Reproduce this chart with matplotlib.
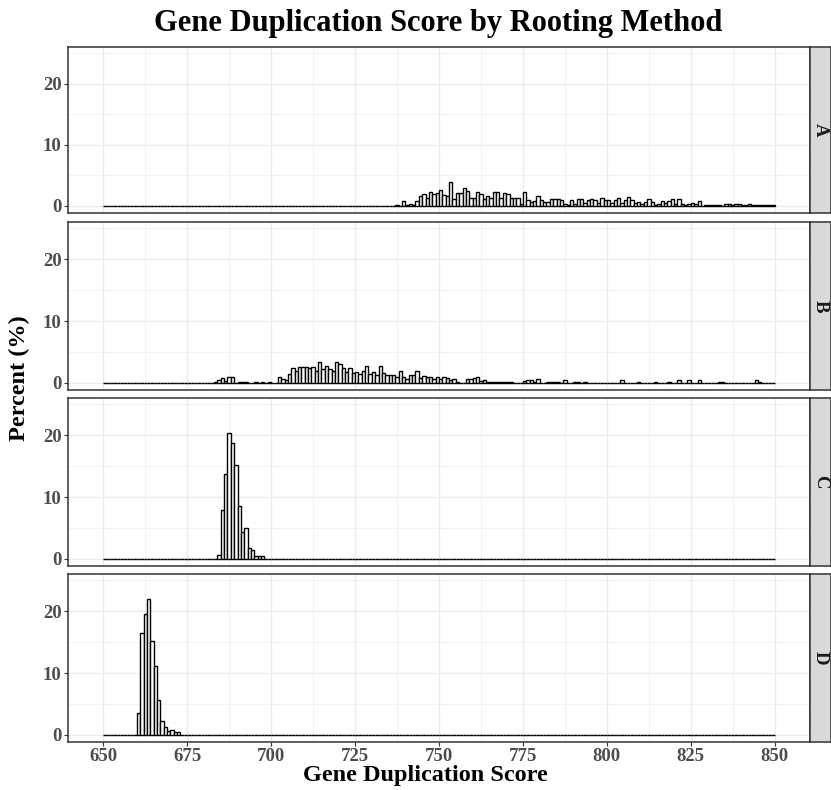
import numpy as np
import matplotlib.pyplot as plt

plt.rcParams['font.family'] = ['Liberation Serif', 'DejaVu Serif']
plt.rcParams['font.weight'] = 'bold'

# percent of trees per 1-unit score bin
methods = ['A', 'B', 'C', 'D']
bin_lo, bin_hi = 650, 850

a_start = 736
a_pct = [0, 0.1, 0, 0.8, 0.2, 0.4, 0.2, 0.8, 1.7, 1.9, 1.3, 2.3, 1.9, 2.2, 2.6,
         1.8, 1.7, 3.9, 1.1, 2.1, 2.2, 3.0, 2.4, 1.3, 1.3, 2.3, 1.9, 1.1, 1.7,
         1.3, 2.3, 2.3, 1.3, 2.2, 2.0, 1.3, 1.3, 1.3, 0.3, 2.3, 0.9, 0.6, 0.8,
         1.7, 1.0, 0.7, 0.6, 1.1, 1.1, 1.1, 1.0, 0.4, 0.1, 1.0, 0.3, 1.1, 1.1,
         0.5, 0.9, 1.2, 0.9, 0.5, 1.3, 1.0, 1.0, 0.5, 0.9, 1.3, 0.5, 0.9, 1.4,
         1.0, 0.5, 0.6, 0.3, 0.6, 1.1, 0.6, 0.2, 0.4, 0.8, 0.5, 0.8, 1.1, 0.3,
         1.1, 0.3, 0.2, 0.3, 0.5, 0.3, 0.8, 0, 0.1, 0.2, 0.2, 0.2, 0.1, 0, 0.3,
         0.3, 0.1, 0.3, 0.3, 0.1, 0.2, 0.3, 0.2, 0.2, 0.1, 0.2, 0.1, 0.2, 0.2]

b_start = 683
b_pct = [0.2, 0.5, 0.8, 0.3, 0.9, 0.9, 0, 0.1, 0.1, 0.1, 0, 0, 0.1, 0, 0.1, 0,
         0.1, 0, 0, 0.9, 0.6, 0.5, 1.4, 2.4, 1.9, 2.5, 2.6, 2.5, 2.4, 2.5, 2.0,
         3.3, 2.2, 2.8, 2.3, 1.9, 3.3, 3.0, 2.4, 1.8, 2.4, 1.6, 1.8, 1.5, 2.0,
         2.7, 1.4, 1.8, 1.3, 2.8, 1.6, 1.2, 1.2, 1.2, 1.0, 2.0, 1.0, 0.7, 1.2,
         1.3, 1.9, 0.8, 1.1, 1.0, 1.0, 0.7, 0.9, 0.6, 0.9, 0.8, 0.5, 0.6, 0.1,
         0, 0, 0.7, 0.7, 0.8, 0.9, 0.3, 0.4, 0.2, 0.2, 0.2, 0.2, 0.2, 0.2, 0.2,
         0.1, 0, 0, 0, 0.3, 0.4, 0.4, 0.2, 0.6, 0, 0, 0.2, 0.2, 0.2, 0.1, 0,
         0.4, 0, 0, 0.2, 0.2, 0, 0.1, 0, 0, 0, 0, 0, 0, 0, 0, 0, 0, 0.4, 0, 0,
         0, 0, 0.2, 0, 0, 0, 0, 0.2, 0, 0, 0, 0.2, 0, 0, 0.4, 0, 0, 0.4, 0, 0,
         0.4, 0, 0, 0, 0, 0, 0.2, 0.2, 0, 0, 0, 0, 0, 0, 0, 0, 0, 0.4, 0.2]

c_start = 684
c_pct = [0.7, 7.9, 13.7, 20.3, 18.7, 15.1, 8.5, 4.4, 5.0, 1.7, 1.5, 0.5, 0.4, 0.4]

d_start = 660
d_pct = [3.6, 16.5, 19.5, 22.0, 15.2, 11.1, 5.6, 2.3, 1.3, 0.7, 0.8, 0.4, 0.4]

starts = [a_start, b_start, c_start, d_start]
pcts = [a_pct, b_pct, c_pct, d_pct]

x_ticks = [650, 675, 700, 725, 750, 775, 800, 825, 850]
y_ticks = [0, 10, 20]

W, H = 831, 790
fig = plt.figure(figsize=(W / 100, H / 100), dpi=100)

left, right = 68, 810
strip_w = 21
panels = [(47, 213), (222, 390), (398, 566), (574, 742)]
dark = '#333333'
edges = np.arange(bin_lo, bin_hi)

for k, (top, bot) in enumerate(panels):
    ax = fig.add_axes([left / W, 1 - bot / H, (right - left) / W, (bot - top) / H])
    vals = np.zeros(len(edges))
    i0 = starts[k] - bin_lo
    n = min(len(pcts[k]), len(edges) - i0)
    vals[i0:i0 + n] = pcts[k][:n]
    ax.bar(edges, vals, width=1, align='edge', color='white',
           edgecolor='black', linewidth=1.0, zorder=3)
    ax.set_xlim(639.5, 860.5)
    ax.set_ylim(-1.15, 26.0)
    ax.set_yticks(y_ticks)
    ax.set_yticks([5, 15, 25], minor=True)
    ax.set_xticks(x_ticks)
    ax.set_xticks(np.arange(662.5, 850, 25), minor=True)
    ax.grid(True, which='major', color='#EBEBEB', linewidth=1.0, zorder=0)
    ax.grid(True, which='minor', color='#EBEBEB', linewidth=0.5, zorder=0)
    ax.tick_params(which='minor', length=0)
    ax.tick_params(which='major', length=3, width=0.8, color=dark, pad=1.5,
                   labelsize=13.5, labelcolor='#4D4D4D')
    for s in ax.spines.values():
        s.set_color(dark)
        s.set_linewidth(1.1)
    if k < 3:
        ax.tick_params(axis='x', labelbottom=False, length=0)
    for lab in ax.get_xticklabels() + ax.get_yticklabels():
        lab.set_fontweight('bold')

    sax = fig.add_axes([right / W, 1 - bot / H, strip_w / W, (bot - top) / H])
    sax.set_facecolor('#D9D9D9')
    sax.set_xticks([])
    sax.set_yticks([])
    for s in sax.spines.values():
        s.set_color(dark)
        s.set_linewidth(1.1)
    sax.text(0.5, 0.5, methods[k], rotation=-90, ha='center', va='center',
             fontsize=13.5, fontweight='bold', color='#1A1A1A',
             transform=sax.transAxes)

fig.text(438 / W, 1 - 23 / H, 'Gene Duplication Score by Rooting Method',
         ha='center', va='center', fontsize=22, fontweight='bold')
fig.text(425 / W, 1 - 776 / H, 'Gene Duplication Score',
         ha='center', va='center', fontsize=17.5, fontweight='bold')
fig.text(19 / W, 1 - 378 / H, 'Percent (%)', rotation=90,
         ha='center', va='center', fontsize=17.5, fontweight='bold')

fig.savefig('out.png', dpi=100)
